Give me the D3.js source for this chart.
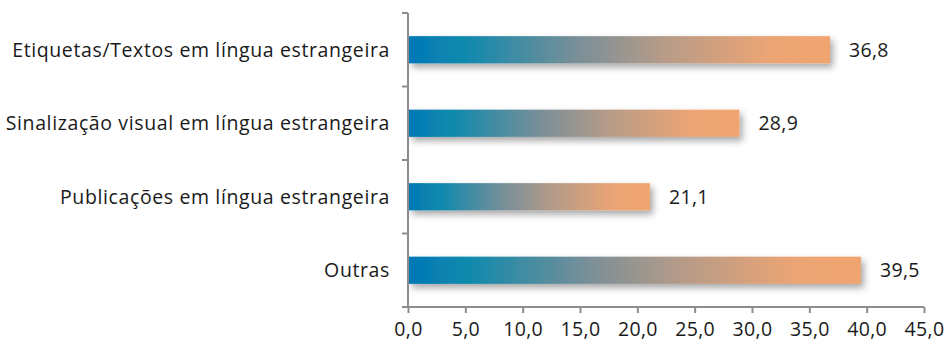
<!DOCTYPE html>
<html><head><meta charset="utf-8">
<script src="https://cdn.jsdelivr.net/npm/d3@7/dist/d3.min.js"></script>
<style>body{margin:0;background:#fff;} text{font-family:"Open Sans",sans-serif;fill:#1a1a1a;font-weight:400;letter-spacing:0.35px;}</style>
</head><body><svg id="c" width="946" height="347"></svg>
<script>
const categories = ["Etiquetas/Textos em língua estrangeira","Sinalização visual em língua estrangeira","Publicações em língua estrangeira","Outras"];
const values = [36.8, 28.9, 21.1, 39.5];
const valueLabels = ["36,8","28,9","21,1","39,5"];
const xTicks = [0,5,10,15,20,25,30,35,40,45];

const svg = d3.select("#c");
const x0 = 408, x1 = 924, yTop = 13, yBot = 307;
const FS = 19.5;
const x = d3.scaleLinear().domain([0,45]).range([x0,x1]);
const y = d3.scaleBand().domain(categories).range([yTop,yBot]).paddingInner(0.63).paddingOuter(0.315);

const defs = svg.append("defs");
const g = defs.append("linearGradient").attr("id","grad").attr("x1","0").attr("x2","1").attr("y1","0").attr("y2","0");
[[0,"#0477b6"],[0.12,"#0a89ae"],[0.4,"#7a8f98"],[0.6,"#b59b88"],[0.85,"#eba474"],[1,"#f0a570"]].forEach(s=>g.append("stop").attr("offset",s[0]).attr("stop-color",s[1]));
const f = defs.append("filter").attr("id","sh").attr("x","-10%").attr("y","-50%").attr("width","130%").attr("height","250%");
f.append("feDropShadow").attr("dx",3).attr("dy",4).attr("stdDeviation",3.5).attr("flood-color","#000").attr("flood-opacity",0.35);

svg.append("g").selectAll("rect").data(categories).join("rect")
  .attr("x", x(0)+1).attr("y", d=>y(d)).attr("height", y.bandwidth())
  .attr("width", (d,i)=>x(values[i])-x(0)-1)
  .attr("fill","url(#grad)").attr("filter","url(#sh)");

const axisColor = "#8c8c8c";
const yAxis = svg.append("g");
yAxis.append("line").attr("x1",x0).attr("x2",x0).attr("y1",yTop).attr("y2",yBot).attr("stroke",axisColor).attr("stroke-width",2);
const yt = [yTop].concat(categories.map(c=>y(c)+y.bandwidth()/2 + y.step()/2));
yAxis.selectAll("line.t").data(yt).join("line").attr("class","t")
  .attr("x1",x0-6).attr("x2",x0).attr("y1",d=>d).attr("y2",d=>d).attr("stroke",axisColor).attr("stroke-width",2);

const xAxis = svg.append("g").attr("transform",`translate(0,${yBot})`)
  .call(d3.axisBottom(x).tickValues(xTicks).tickSize(6).tickPadding(5).tickFormat(d=>d3.format(".1f")(d).replace(".",",")));
xAxis.select(".domain").attr("stroke",axisColor).attr("stroke-width",2).attr("d",`M${x0-6},0H${x1}`);
xAxis.selectAll(".tick line").attr("stroke",axisColor).attr("stroke-width",2);
xAxis.selectAll(".tick text").attr("font-size",FS).attr("font-family","'Open Sans',sans-serif").attr("fill","#1a1a1a").attr("dy","0.9em");

svg.append("g").selectAll("text").data(categories).join("text")
  .attr("x",390).attr("y",d=>y(d)+y.bandwidth()/2).attr("dy","0.35em")
  .attr("text-anchor","end").attr("font-size",FS).style("letter-spacing","0.62px").text(d=>d);

svg.append("g").selectAll("text").data(categories).join("text")
  .attr("x",(d,i)=>x(values[i])+19).attr("y",d=>y(d)+y.bandwidth()/2).attr("dy","0.35em")
  .attr("font-size",FS).text((d,i)=>valueLabels[i]);
</script></body></html>
